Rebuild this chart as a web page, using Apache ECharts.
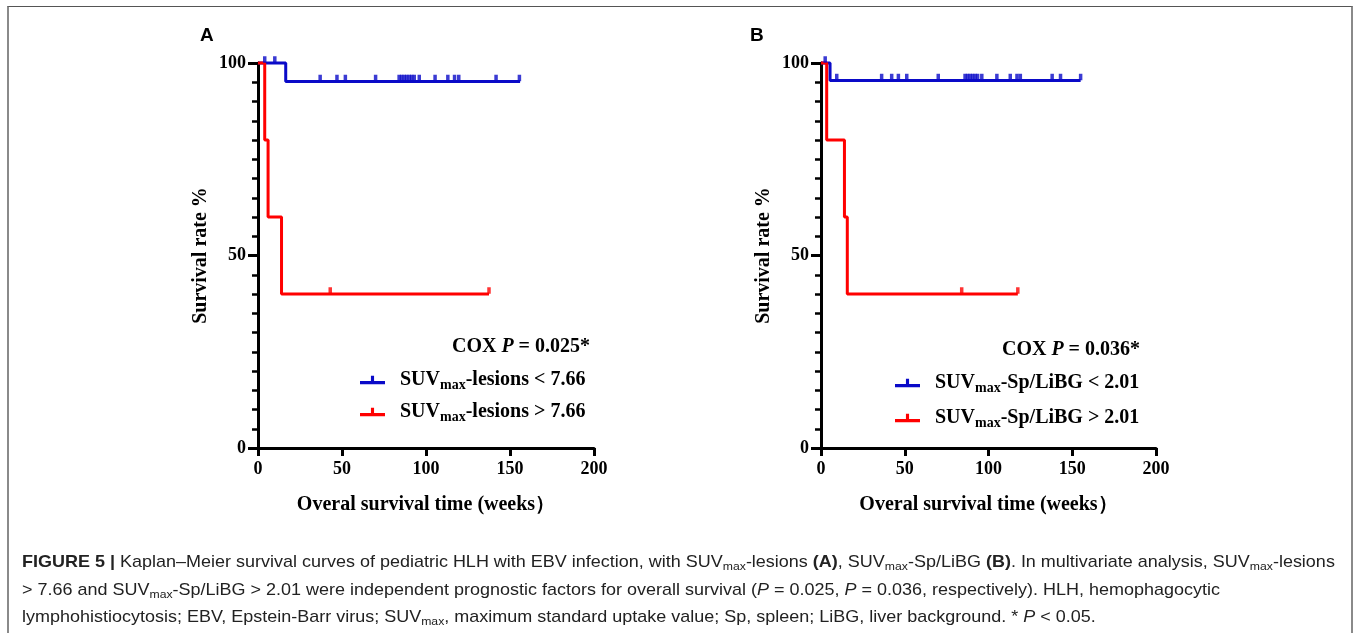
<!DOCTYPE html>
<html><head><meta charset="utf-8">
<script src="https://cdn.jsdelivr.net/npm/echarts@6/dist/echarts.min.js"></script>
<style>
html,body{margin:0;padding:0;background:#fff;overflow:hidden;}
#frame{position:absolute;left:7px;top:6px;width:1346px;height:660px;border-left:2px solid #8a8a8a;border-top:1px solid #555;border-right:2px solid #8a8a8a;box-sizing:border-box;}
#chart{position:absolute;left:0;top:0;width:1357px;height:633px;}
#caption{position:absolute;left:22px;top:548px;font-family:"Liberation Sans Narrow","Liberation Sans",Arial,sans-serif;font-size:17px;line-height:27.5px;color:#222;white-space:nowrap;transform-origin:0 0;}
#caption sub{font-size:0.68em;vertical-align:-0.25em;line-height:0;}
</style>
</head><body>
<div id="chart"></div>
<div id="frame"></div>
<div id="caption">
<div id="cl1"><b>FIGURE 5 |</b> Kaplan–Meier survival curves of pediatric HLH with EBV infection, with SUV<sub>max</sub>-lesions <b>(A)</b>, SUV<sub>max</sub>-Sp/LiBG <b>(B)</b>. In multivariate analysis, SUV<sub>max</sub>-lesions</div>
<div>&gt; 7.66 and SUV<sub>max</sub>-Sp/LiBG &gt; 2.01 were independent prognostic factors for overall survival (<i>P</i> = 0.025, <i>P</i> = 0.036, respectively). HLH, hemophagocytic</div>
<div>lymphohistiocytosis; EBV, Epstein-Barr virus; SUV<sub>max</sub>, maximum standard uptake value; Sp, spleen; LiBG, liver background. * <i>P</i> &lt; 0.05.</div>
</div>
<script>
// ---------- data ----------
const xTickLabels = [0, 50, 100, 150, 200];
const yTickLabels = [0, 50, 100];

// Panel A
const A_lowName = 'SUVmax-lesions < 7.66';
const A_lowTimes = [0, 16.5, 156];
const A_lowSurv = [100, 95.2, 95.2];
const A_lowCensor = [4, 10, 37, 47, 52, 70, 84, 85.5, 87, 88.5, 90, 91.5, 93, 96, 105.4, 113, 117, 119.5, 141.7, 155.6];

const A_highName = 'SUVmax-lesions > 7.66';
const A_highTimes = [0, 4, 6, 14, 137.5];
const A_highSurv = [100, 80, 60, 40, 40];
const A_highCensor = [43, 137.5];

const A_cox = '0.025*';

// Panel B
const B_lowName = 'SUVmax-Sp/LiBG < 2.01';
const B_lowTimes = [0, 5.4, 155];
const B_lowSurv = [100, 95.45, 95.45];
const B_lowCensor = [2.5, 9.4, 36.2, 42.2, 46.2, 51.2, 70, 86, 87.5, 89, 90.5, 92, 93.5, 96, 105, 113, 117, 119, 138, 143, 155];

const B_highName = 'SUVmax-Sp/LiBG > 2.01';
const B_highTimes = [0, 3.4, 14, 15.7, 117.5];
const B_highSurv = [100, 80, 60, 40, 40];
const B_highCensor = [84, 117.5];

const B_cox = '0.036*';

const xTitle = 'Overal survival time (weeks）';
const yTitle = 'Survival rate %';

// ---------- helpers ----------
const BLUE = '#0a0ac8';
const RED = '#ff0000';
const SERIF = '"Liberation Serif","Times New Roman",serif';
const SANS = '"Liberation Sans",Arial,sans-serif';

function survAt(times, surv, t) {
  let v = surv[0];
  for (let i = 0; i < times.length; i++) if (times[i] <= t) v = surv[i];
  return v;
}
function curve(times, surv) { return times.map((t, i) => [t, surv[i]]); }
function censors(times, surv, cs) { return cs.map(t => [t, survAt(times, surv, t)]); }

function lineSeries(name, idx, times, surv, color) {
  return {
    name: name, type: 'line', xAxisIndex: idx, yAxisIndex: idx,
    step: 'end', symbol: 'none', showSymbol: false, clip: false,
    lineStyle: { color: color, width: 3 }, itemStyle: { color: color },
    data: curve(times, surv), z: color === RED ? 3 : 2
  };
}
function censorSeries(name, idx, times, surv, cs, color) {
  return {
    name: name, type: 'scatter', xAxisIndex: idx, yAxisIndex: idx,
    symbol: 'rect', symbolSize: [3.5, 6.5], symbolOffset: [0, -3.5], clip: false,
    itemStyle: { color: color }, data: censors(times, surv, cs), z: 4
  };
}

const axisFont = { fontFamily: SERIF, fontWeight: 'bold', fontSize: 18, color: '#000' };
const titleFont = { fontFamily: SERIF, fontWeight: 'bold', fontSize: 20, color: '#000' };

function xAxisDef(idx) {
  return {
    gridIndex: idx, type: 'value', min: xTickLabels[0], max: xTickLabels[xTickLabels.length - 1],
    interval: xTickLabels[1] - xTickLabels[0],
    axisLine: { show: true, lineStyle: { color: '#000', width: 3 } },
    axisTick: { show: true, length: 8, lineStyle: { color: '#000', width: 3 } },
    axisLabel: Object.assign({ margin: 12 }, axisFont),
    splitLine: { show: false },
    name: xTitle, nameLocation: 'middle', nameGap: 47, nameTextStyle: titleFont
  };
}
function yAxisDef(idx) {
  return {
    gridIndex: idx, type: 'value', min: yTickLabels[0], max: yTickLabels[yTickLabels.length - 1],
    interval: yTickLabels[1] - yTickLabels[0],
    axisLine: { show: true, lineStyle: { color: '#000', width: 3 } },
    axisTick: { show: true, length: 10, lineStyle: { color: '#000', width: 3 } },
    minorTick: { show: true, splitNumber: 10, length: 6, lineStyle: { color: '#000', width: 2.5 } },
    axisLabel: Object.assign({ margin: 12 }, axisFont),
    splitLine: { show: false }, minorSplitLine: { show: false },
    name: yTitle, nameLocation: 'middle', nameGap: 47, nameRotate: 90, nameTextStyle: titleFont
  };
}

const legendRich = {
  g: { width: 10, fontSize: 20, fontFamily: SERIF },
  n: { fontFamily: SERIF, fontWeight: 'bold', fontSize: 20, color: '#000', lineHeight: 24 },
  s: { fontFamily: SERIF, fontWeight: 'bold', fontSize: 14, color: '#000', lineHeight: 12, verticalAlign: 'bottom' }
};
function legendFormatter(name) {
  const rest = name.replace(/^SUVmax/, '');
  return '{g| }{n|SUV}{s|max}{n|' + rest + '}';
}
const legendIcon = 'path://M0,7L24,7L24,10L0,10Z M10.5,2L13.5,2L13.5,7L10.5,7Z';

function legendDef(names, left, top, gap) {
  return {
    data: names, orient: 'vertical', left: left, top: top, padding: 0, itemGap: gap,
    itemWidth: 25, itemHeight: 9, icon: legendIcon, selectedMode: false,
    formatter: legendFormatter, textStyle: { rich: legendRich, fontSize: 20 }
  };
}

const coxRich = {
  b: { fontFamily: SERIF, fontWeight: 'bold', fontSize: 20, color: '#000' },
  i: { fontFamily: SERIF, fontWeight: 'bold', fontStyle: 'italic', fontSize: 20, color: '#000' }
};

const option = {
  animation: false,
  backgroundColor: '#fff',
  title: [
    { text: 'A', left: 200, top: 26, padding: 0, textStyle: { fontFamily: SANS, fontWeight: 'bold', fontSize: 19, color: '#000' } },
    { text: 'B', left: 750, top: 26, padding: 0, textStyle: { fontFamily: SANS, fontWeight: 'bold', fontSize: 19, color: '#000' } },
    { text: '{b|COX }{i|P}{b| = ' + A_cox + '}', right: 1357 - 590, top: 337, padding: 0, textStyle: { rich: coxRich } },
    { text: '{b|COX }{i|P}{b| = ' + B_cox + '}', right: 1357 - 1140, top: 340, padding: 0, textStyle: { rich: coxRich } }
  ],
  grid: [
    { left: 258, top: 63, width: 336, height: 385 },
    { left: 821, top: 63, width: 335, height: 385 }
  ],
  xAxis: [xAxisDef(0), xAxisDef(1)],
  yAxis: [yAxisDef(0), yAxisDef(1)],
  legend: [
    legendDef([A_lowName, A_highName], 360, 370, 10),
    legendDef([B_lowName, B_highName], 895, 373, 13)
  ],
  series: [
    lineSeries(A_lowName, 0, A_lowTimes, A_lowSurv, BLUE),
    censorSeries(A_lowName, 0, A_lowTimes, A_lowSurv, A_lowCensor, BLUE),
    lineSeries(A_highName, 0, A_highTimes, A_highSurv, RED),
    censorSeries(A_highName, 0, A_highTimes, A_highSurv, A_highCensor, RED),
    lineSeries(B_lowName, 1, B_lowTimes, B_lowSurv, BLUE),
    censorSeries(B_lowName, 1, B_lowTimes, B_lowSurv, B_lowCensor, BLUE),
    lineSeries(B_highName, 1, B_highTimes, B_highSurv, RED),
    censorSeries(B_highName, 1, B_highTimes, B_highSurv, B_highCensor, RED)
  ]
};

const chart = echarts.init(document.getElementById('chart'), null, { renderer: 'canvas' });
chart.setOption(option);

// fit caption first line to the reference width
(function () {
  const cap = document.getElementById('caption');
  const l1 = document.getElementById('cl1');
  const w = l1.scrollWidth;
  const target = 1313;
  if (w > 0) cap.style.transform = 'scaleX(' + (target / w) + ')';
})();
</script>
</body></html>
